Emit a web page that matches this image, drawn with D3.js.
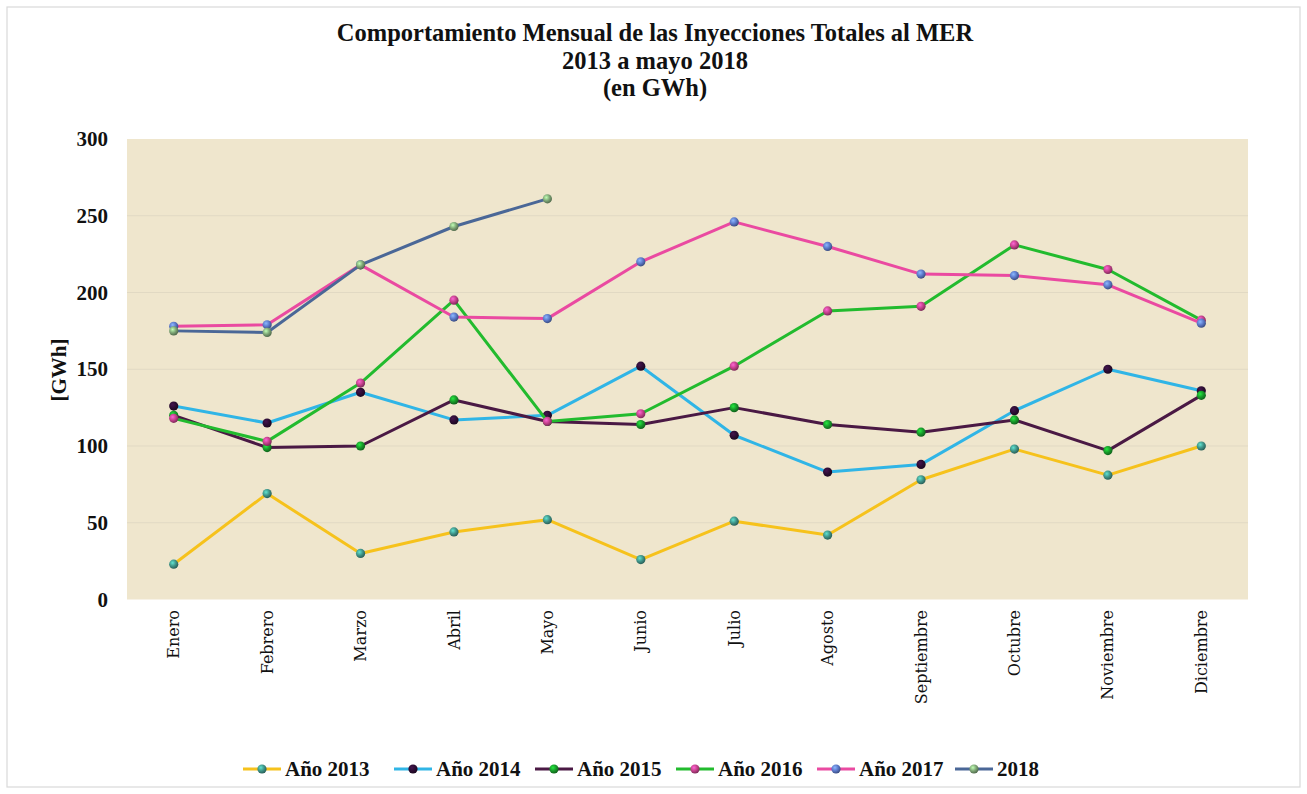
<!DOCTYPE html>
<html>
<head>
<meta charset="utf-8">
<script src="https://cdn.jsdelivr.net/npm/d3@7"></script>
<style>
  body { margin: 0; background: #fff; }
  svg { display: block; }
</style>
</head>
<body>
<svg id="chart" width="1307" height="794"></svg>
<script>
// meses y valores (GWh)
var months = ["Enero", "Febrero", "Marzo", "Abril", "Mayo", "Junio", "Julio", "Agosto", "Septiembre", "Octubre", "Noviembre", "Diciembre"];
var yTicks = [0, 50, 100, 150, 200, 250, 300];
var seriesNames = ["Año 2013", "Año 2014", "Año 2015", "Año 2016", "Año 2017", "2018"];

var v2013 = [23, 69, 30, 44, 52, 26, 51, 42, 78, 98, 81, 100];
var v2014 = [126, 115, 135, 117, 120, 152, 107, 83, 88, 123, 150, 136];
var v2015 = [120, 99, 100, 130, 116, 114, 125, 114, 109, 117, 97, 133];
var v2016 = [118, 103, 141, 195, 116, 121, 152, 188, 191, 231, 215, 182];
var v2017 = [178, 179, 218, 184, 183, 220, 246, 230, 212, 211, 205, 180];
var v2018 = [175, 174, 218, 243, 261];

var lineColors = ["#f6c21c", "#30b5e6", "#4a1944", "#22bb2e", "#ea4aa1", "#4a6797"];
var markerColors = ["#3f9488", "#2c0d33", "#18992a", "#c3418b", "#5b78c9", "#7ea676"];

var allValues = [v2013, v2014, v2015, v2016, v2017, v2018];

var svg = d3.select("#chart");
var W = 1307, H = 794;

// marco exterior
svg.append("rect")
  .attr("x", 7).attr("y", 7)
  .attr("width", W - 14).attr("height", H - 14)
  .attr("fill", "#fff").attr("stroke", "#d9d9d9").attr("stroke-width", 1.2);

var plotLeft = 127, plotTop = 139, plotRight = 1248, plotBottom = 599.5;

var x = d3.scalePoint().domain(months).range([plotLeft, plotRight]).padding(0.5);
var y = d3.scaleLinear().domain([0, 300]).range([plotBottom, plotTop]);

// gradientes de los marcadores
var defs = svg.append("defs");
markerColors.forEach(function(c, i) {
  var g = defs.append("radialGradient").attr("id", "mk" + i)
    .attr("cx", "38%").attr("cy", "35%").attr("r", "65%");
  g.append("stop").attr("offset", "0%").attr("stop-color", d3.color(c).brighter(1.2));
  g.append("stop").attr("offset", "55%").attr("stop-color", c);
  g.append("stop").attr("offset", "100%").attr("stop-color", d3.color(c).darker(1.2));
});

// fondo del area
svg.append("rect")
  .attr("x", plotLeft).attr("y", plotTop)
  .attr("width", plotRight - plotLeft).attr("height", plotBottom - plotTop)
  .attr("fill", "#efe6cd");

// lineas de division
svg.append("g").selectAll("line")
  .data(yTicks.filter(function(t) { return t > 0 && t < 300; }))
  .enter().append("line")
  .attr("x1", plotLeft).attr("x2", plotRight)
  .attr("y1", function(d) { return y(d); })
  .attr("y2", function(d) { return y(d); })
  .attr("stroke", "#e1d9c3").attr("stroke-width", 1);

// eje y
var yAxis = svg.append("g")
  .attr("transform", "translate(" + plotLeft + ",0)")
  .call(d3.axisLeft(y).tickValues(yTicks).tickSize(0).tickPadding(19));
yAxis.select(".domain").remove();
yAxis.selectAll("text")
  .attr("font-family", "'Liberation Serif', 'Times New Roman', serif")
  .attr("font-weight", "bold")
  .attr("font-size", 21)
  .attr("fill", "#111");

svg.append("text")
  .attr("transform", "translate(66,370) rotate(-90)")
  .attr("text-anchor", "middle")
  .attr("font-family", "'Liberation Serif', serif")
  .attr("font-weight", "bold")
  .attr("font-size", 21)
  .attr("fill", "#111")
  .text("[GWh]");

// eje x (etiquetas verticales)
svg.append("g").selectAll("text")
  .data(months)
  .enter().append("text")
  .attr("transform", function(d) { return "translate(" + x(d) + ",610) rotate(-90)"; })
  .attr("text-anchor", "end")
  .attr("dy", "0.35em")
  .attr("font-family", "'DejaVu Serif', serif")
  .attr("font-size", 16)
  .attr("fill", "#111")
  .text(function(d) { return d; });

// series
var line = d3.line()
  .x(function(d, i) { return x(months[i]); })
  .y(function(d) { return y(d); });

allValues.forEach(function(vals, s) {
  var g = svg.append("g");
  g.append("path")
    .datum(vals)
    .attr("d", line)
    .attr("fill", "none")
    .attr("stroke", lineColors[s])
    .attr("stroke-width", 3)
    .attr("stroke-linejoin", "round");
  g.selectAll("circle")
    .data(vals)
    .enter().append("circle")
    .attr("cx", function(d, i) { return x(months[i]); })
    .attr("cy", function(d) { return y(d); })
    .attr("r", 4.6)
    .attr("fill", "url(#mk" + s + ")");
});

// titulo
var title = ["Comportamiento Mensual de las Inyecciones Totales al MER", "2013 a mayo 2018", "(en GWh)"];
svg.append("g").selectAll("text")
  .data(title)
  .enter().append("text")
  .attr("x", 655)
  .attr("y", function(d, i) { return 41 + i * 27.5; })
  .attr("text-anchor", "middle")
  .attr("font-family", "'Liberation Serif', 'Times New Roman', serif")
  .attr("font-weight", "bold")
  .attr("font-size", 24.5)
  .attr("fill", "#111")
  .text(function(d) { return d; });

// leyenda
var legendX = [243, 394, 535, 676, 817, 955];
var legend = svg.append("g");
seriesNames.forEach(function(name, s) {
  var item = legend.append("g").attr("transform", "translate(" + legendX[s] + ",769)");
  item.append("line")
    .attr("x1", 0).attr("x2", 38)
    .attr("stroke", lineColors[s]).attr("stroke-width", 3);
  item.append("circle")
    .attr("cx", 19).attr("r", 4.6)
    .attr("fill", "url(#mk" + s + ")");
  item.append("text")
    .attr("x", 42).attr("dy", "0.35em")
    .attr("font-family", "'Liberation Serif', serif")
    .attr("font-weight", "bold")
    .attr("font-size", 21)
    .attr("fill", "#111")
    .text(name);
});
</script>
</body>
</html>
